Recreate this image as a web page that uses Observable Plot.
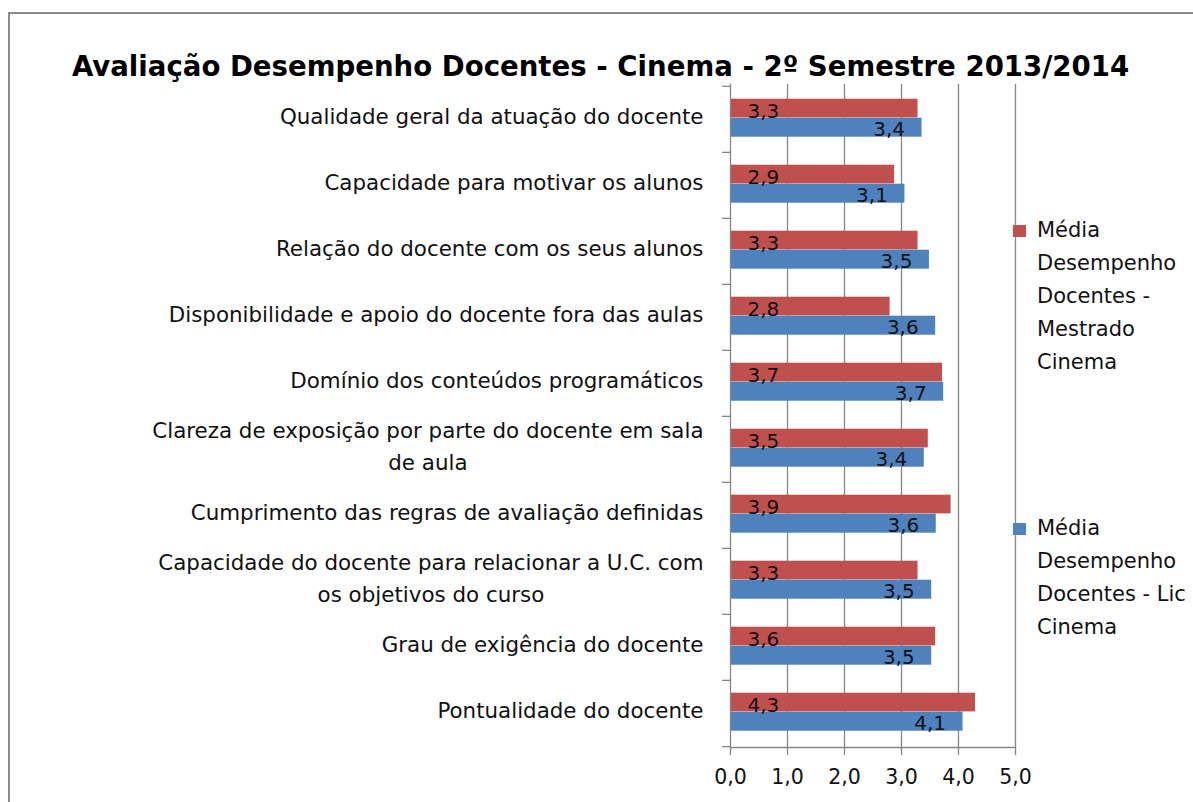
<!DOCTYPE html>
<html>
<head>
<meta charset="utf-8">
<script src="https://cdn.jsdelivr.net/npm/d3@7"></script>
<script src="https://cdn.jsdelivr.net/npm/@observablehq/plot@0.6"></script>
<style>
  html, body { margin: 0; padding: 0; background: #fff; }
  #wrap { position: relative; width: 1193px; height: 802px; overflow: hidden; font-family: "DejaVu Sans", sans-serif; }
  #frame { position: absolute; left: 8px; top: 12px; width: 1400px; height: 1000px; border-left: 2px solid #8a8a8a; border-top: 2px solid #8a8a8a; }
  #title { position: absolute; left: 4px; width: 1193px; top: 48px; text-align: center; font-weight: bold; font-size: 27.6px; color: #000; line-height: 38px; white-space: nowrap; }
  #chart { position: absolute; left: 0; top: 0; }
  #legend { position: absolute; left: 1013px; top: 0; font-size: 21px; color: #111; }
  .item { position: absolute; left: 0; white-space: nowrap; }
  .sw { position: absolute; left: 0; width: 13px; height: 12px; }
  .lbl { position: absolute; left: 24px; line-height: 33px; }
</style>
</head>
<body>
<div id="wrap">
  <div id="frame"></div>
  <div id="chart"></div>
  <div id="title"></div>
  <div id="legend"></div>
</div>
<script>
const titleText = "Avaliação Desempenho Docentes - Cinema - 2º Semestre 2013/2014";
const categories = [
  "Qualidade geral da atuação do docente",
  "Capacidade para motivar os alunos",
  "Relação do docente com os seus alunos",
  "Disponibilidade e apoio do docente fora das aulas",
  "Domínio dos conteúdos programáticos",
  "Clareza de exposição por parte do docente em sala\nde aula",
  "Cumprimento das regras de avaliação definidas",
  "Capacidade do docente para relacionar a U.C. com\nos objetivos do curso",
  "Grau de exigência do docente",
  "Pontualidade do docente"
];
const seriesNames = ["Média Desempenho Docentes - Mestrado Cinema", "Média Desempenho Docentes - Lic Cinema"];
const legendLines = [["Média", "Desempenho", "Docentes -", "Mestrado", "Cinema"], ["Média", "Desempenho", "Docentes - Lic", "Cinema"]];
const seriesColors = ["#C0504D", "#4F81BD"];
const mestrado = [3.29, 2.88, 3.29, 2.80, 3.72, 3.47, 3.87, 3.29, 3.60, 4.30];
const lic = [3.36, 3.06, 3.49, 3.60, 3.74, 3.40, 3.61, 3.53, 3.53, 4.08];
const xTicks = [0, 1, 2, 3, 4, 5];

const fmt = v => v.toFixed(1).replace(".", ",");
const red = categories.map((c, i) => ({category: c, series: seriesNames[0], value: mestrado[i]}));
const blue = categories.map((c, i) => ({category: c, series: seriesNames[1], value: lic[i]}));

const grid = "#868686";
const plot = Plot.plot({
  width: 1193,
  height: 802,
  marginTop: 84,
  marginBottom: 55,
  marginLeft: 730,
  marginRight: 178,
  style: {fontFamily: "'DejaVu Sans', sans-serif", fontSize: "20px", color: "#111", background: "transparent", overflow: "visible"},
  x: {domain: [0, 5], ticks: xTicks},
  y: {domain: categories, padding: 0},
  color: {domain: seriesNames, range: seriesColors},
  marks: [
    Plot.ruleX(xTicks.slice(1), {stroke: grid, strokeWidth: 1.3}),
    Plot.barX(red, {x: "value", y: "category", fill: "series", insetTop: 12.7, insetBottom: 34.6}),
    Plot.barX(blue, {x: "value", y: "category", fill: "series", insetTop: 31.7, insetBottom: 15.3}),
    Plot.frame({anchor: "left", stroke: grid, strokeWidth: 1.3}),
    Plot.frame({anchor: "bottom", stroke: grid, strokeWidth: 1.3}),
    Plot.ruleY(categories, {y: d => d, x1: -0.14, x2: 0, dy: -33.15, stroke: grid, strokeWidth: 1.3}),
    Plot.ruleY(categories.slice(-1), {y: d => d, x1: -0.14, x2: 0, dy: 33.15, stroke: grid, strokeWidth: 1.3}),
    Plot.text(red, {x: 0, y: "category", text: d => fmt(d.value), textAnchor: "start", dx: 17, dy: -8, fill: "#111", fontSize: 20}),
    Plot.text(blue, {x: "value", y: "category", text: d => fmt(d.value), textAnchor: "end", dx: -17, dy: 10, fill: "#111", fontSize: 20}),
    Plot.axisX({ticks: xTicks, tickFormat: fmt, tickSize: 8, tickPadding: 14, stroke: grid, strokeWidth: 1.3, fontSize: 20.5, label: null}),
    Plot.axisY({tickSize: 0, tickPadding: 27, dy: -5.5, fontSize: 21.4, lineHeight: 1.48, label: null, textOverflow: null, lineWidth: Infinity})
  ]
});
document.getElementById("chart").appendChild(plot);
document.getElementById("title").textContent = titleText;

// Excel-style: lines of a wrapped category label are centred on one another
plot.querySelectorAll('[aria-label="y-axis tick label"] text').forEach(t => {
  const spans = t.querySelectorAll("tspan");
  if (spans.length < 2) return;
  const w = Math.max(...Array.from(spans, s => s.getComputedTextLength()));
  const x0 = +(t.getAttribute("x") || 0);
  t.setAttribute("text-anchor", "middle");
  spans.forEach(s => s.setAttribute("x", x0 - w / 2));
});

const legend = document.getElementById("legend");
const tops = [214, 512];
seriesNames.forEach((name, i) => {
  const item = document.createElement("div");
  item.className = "item";
  item.style.top = tops[i] + "px";
  const sw = document.createElement("div");
  sw.className = "sw";
  sw.style.background = seriesColors[i];
  sw.style.top = "11px";
  const lb = document.createElement("div");
  lb.className = "lbl";
  lb.innerHTML = legendLines[i].join("<br>");
  item.title = name;
  item.appendChild(sw);
  item.appendChild(lb);
  legend.appendChild(item);
});
</script>
</body>
</html>
